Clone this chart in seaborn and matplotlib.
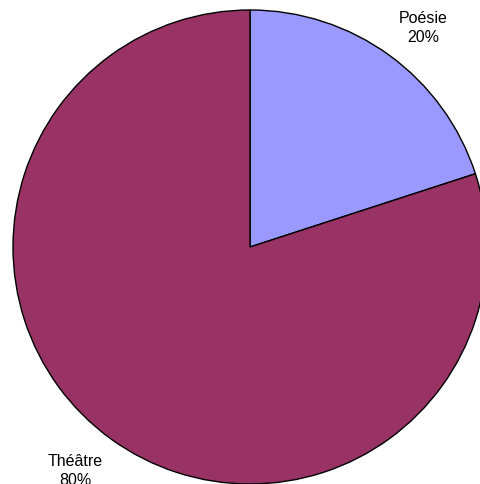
import matplotlib.pyplot as plt
import seaborn as sns

# données du graphique
genres = ['Poésie', 'Théâtre']
parts = [20, 80]
couleurs = ['#9999FF', '#993366']

sns.set_style('white')
plt.rcParams['font.family'] = ['Liberation Sans', 'DejaVu Sans']

fig = plt.figure(figsize=(4.8, 4.85), dpi=100)
ax = fig.add_axes([0, 0, 1, 1])

labels = [f'{g}\n{p}%' for g, p in zip(genres, parts)]
wedges, texts = ax.pie(parts, labels=labels, colors=couleurs,
                       startangle=90, counterclock=False,
                       center=(250, 237), radius=237, labeldistance=1.18,
                       wedgeprops=dict(edgecolor='black', linewidth=1),
                       textprops=dict(ha='center', va='center', fontsize=11.5,
                                      color='black'))
# petit décalage des étiquettes, comme dans l'original
decalages = [(9, -6), (-10, 3)]
for t, (dx, dy) in zip(texts, decalages):
    x, y = t.get_position()
    t.set_position((x + dx, y + dy))
    t.set_linespacing(1.3)

# la pie() remet les limites : on les fixe après
ax.set_xlim(0, 480)
ax.set_ylim(0, 485)
ax.set_aspect('equal')
ax.axis('off')

fig.savefig('out.png', dpi=100)
